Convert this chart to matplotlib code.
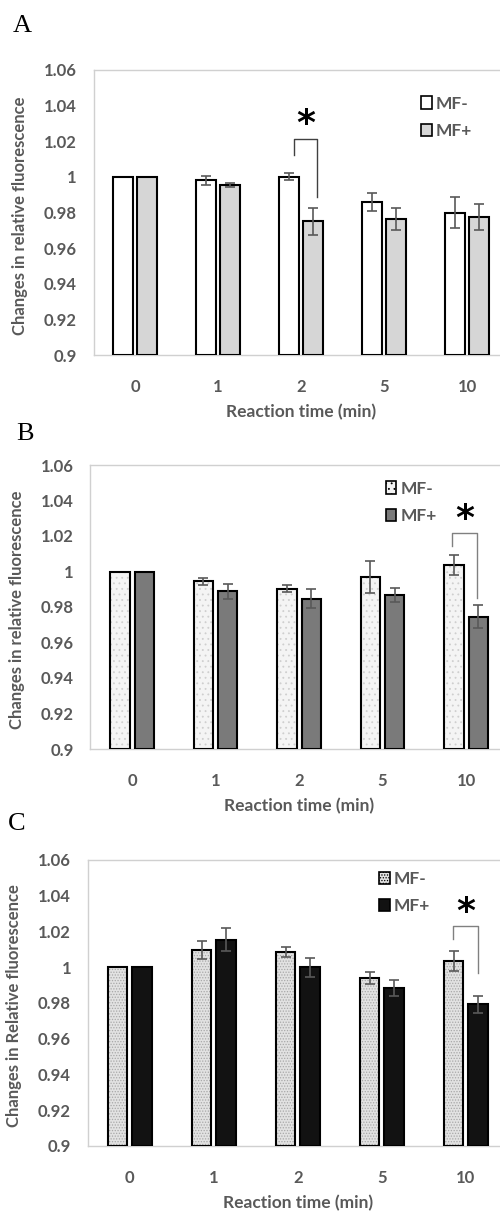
import numpy as np
import matplotlib
matplotlib.use("Agg")
import matplotlib.pyplot as plt
from matplotlib.patches import Patch
from matplotlib.ticker import FuncFormatter

categories = ["0", "1", "2", "5", "10"]

a_minus = [1.0, 0.998, 1.000, 0.986, 0.980]
a_minus_err = [0, 0.0023, 0.0019, 0.005, 0.0087]
a_plus = [1.0, 0.9955, 0.975, 0.9765, 0.9774]
a_plus_err = [0, 0.001, 0.0075, 0.0062, 0.0075]

b_minus = [1.0, 0.9945, 0.9903, 0.9969, 1.0035]
b_minus_err = [0, 0.002, 0.002, 0.0088, 0.0057]
b_plus = [1.0, 0.9888, 0.9847, 0.9868, 0.9746]
b_plus_err = [0, 0.0041, 0.0054, 0.0038, 0.0065]

c_minus = [1.0, 1.0097, 1.0086, 0.994, 1.0035]
c_minus_err = [0, 0.005, 0.0028, 0.0035, 0.0056]
c_plus = [1.0, 1.0155, 1.000, 0.9884, 0.9793]
c_plus_err = [0, 0.0065, 0.0054, 0.0044, 0.0048]

grey_txt = "#595959"
plt.rcParams["font.family"] = ["Lato", "DejaVu Sans"]
plt.rcParams["font.weight"] = "bold"
plt.rcParams["axes.labelweight"] = "bold"
plt.rcParams["hatch.linewidth"] = 0.6

W, H = 500, 1214
fig = plt.figure(figsize=(W / 100, H / 100), dpi=100)


def px_axes(left, right, top, bottom):
    return fig.add_axes([left / W, 1 - bottom / H, (right - left) / W, (bottom - top) / H])


def draw_panel(ax, minus, minus_err, plus, plus_err, styles, ylabel, bracket, leg_pos, bracket_col):
    x = np.arange(len(categories))
    off, w = 0.145, 0.23
    for vals, errs, sign, st in [(minus, minus_err, -1, styles[0]), (plus, plus_err, 1, styles[1])]:
        xs = x + sign * off
        heights = np.array(vals) - 0.9
        # fill (with optional dotted texture), then black outline on top
        ax.bar(xs, heights, w, bottom=0.9, color=st["fc"], hatch=st.get("hatch"),
               edgecolor=st.get("hc", st["fc"]), linewidth=0, zorder=2)
        ax.bar(xs, heights, w, bottom=0.9, fill=False, edgecolor="black", linewidth=1.5, zorder=3)
        for xi, v, e in zip(xs, vals, errs):
            if e > 0:
                ax.errorbar(xi, v, yerr=e, fmt="none", ecolor="#595959", elinewidth=1.2,
                            capsize=3.5, capthick=1.2, zorder=4)

    ax.set_xlim(-0.5, 4.5)
    ax.set_ylim(0.9, 1.06)
    ax.set_yticks(np.arange(0.9, 1.061, 0.02))
    ax.yaxis.set_major_formatter(FuncFormatter(lambda v, p: "%g" % round(v, 2)))
    ax.set_xticks(x)
    ax.set_xticklabels(categories)
    ax.tick_params(length=0, labelsize=12, labelcolor=grey_txt)
    ax.tick_params(axis="x", pad=17)
    ax.tick_params(axis="y", pad=12)
    for s in ax.spines.values():
        s.set_color("#d0d0d0")
        s.set_linewidth(1.0)

    ax.set_ylabel(ylabel, fontsize=12, color=grey_txt)
    ax.yaxis.set_label_coords(-0.157, 0.49)
    ax.set_xlabel("Reaction time (min)", fontsize=12.5, color=grey_txt)
    ax.xaxis.set_label_coords(0.5, -0.2)
    ax.xaxis.label.set_va("center")

    # significance bracket
    xl, xr, ytop, yl, yr, ystar = bracket
    ax.plot([xl, xl, xr, xr], [yl, ytop, ytop, yr], color=bracket_col, lw=1.0, zorder=5)
    ax.text((xl + xr) / 2, ystar, "*", ha="center", va="center", fontsize=26,
            fontweight="bold", color="black", family="DejaVu Sans")

    handles = [Patch(facecolor=styles[0]["fc"], hatch=styles[0].get("hatch"), edgecolor="black", linewidth=1.2),
               Patch(facecolor=styles[1]["fc"], hatch=styles[1].get("hatch"), edgecolor="black", linewidth=1.2)]
    ax.legend(handles, ["MF-", "MF+"], loc="upper left", bbox_to_anchor=leg_pos, frameon=False,
              fontsize=12.5, labelcolor=grey_txt, handlelength=0.6, handleheight=0.7,
              handletextpad=0.25, labelspacing=0.65, borderpad=0, borderaxespad=0)


axA = px_axes(93.5, 508.5, 70, 355)
draw_panel(axA, a_minus, a_minus_err, a_plus, a_plus_err,
           [{"fc": "white"}, {"fc": "#d6d6d6"}],
           "Changes in relative fluorescence",
           (1.92, 2.19, 1.0211, 1.0123, 0.9888, 1.0295), (0.79, 0.91), "#404040")

axB = px_axes(90.3, 507.8, 465, 749)
draw_panel(axB, b_minus, b_minus_err, b_plus, b_plus_err,
           [{"fc": "#f4f4f4", "hatch": "...", "hc": "#cfcfcf"}, {"fc": "#7a7a7a"}],
           "Changes in relative fluorescence",
           (3.832, 4.13, 1.0219, 1.0144, 0.985, 1.0295), (0.708, 0.945), "#808080")

axC = px_axes(87.7, 507.7, 860, 1146)
draw_panel(axC, c_minus, c_minus_err, c_plus, c_plus_err,
           [{"fc": "#e2e2e2", "hatch": "......", "hc": "#a8a8a8"}, {"fc": "#121212"}],
           "Changes in Relative fluorescence",
           (3.85, 4.147, 1.023, 1.0156, 0.997, 1.031), (0.694, 0.962), "#808080")

for lab, xp, yp in [("A", 22, 26), ("B", 25, 434), ("C", 17, 824)]:
    fig.text(xp / W, 1 - yp / H, lab, fontsize=19, fontweight="normal",
             family="Liberation Serif", ha="center", va="center")

fig.savefig("out.png", dpi=100)
